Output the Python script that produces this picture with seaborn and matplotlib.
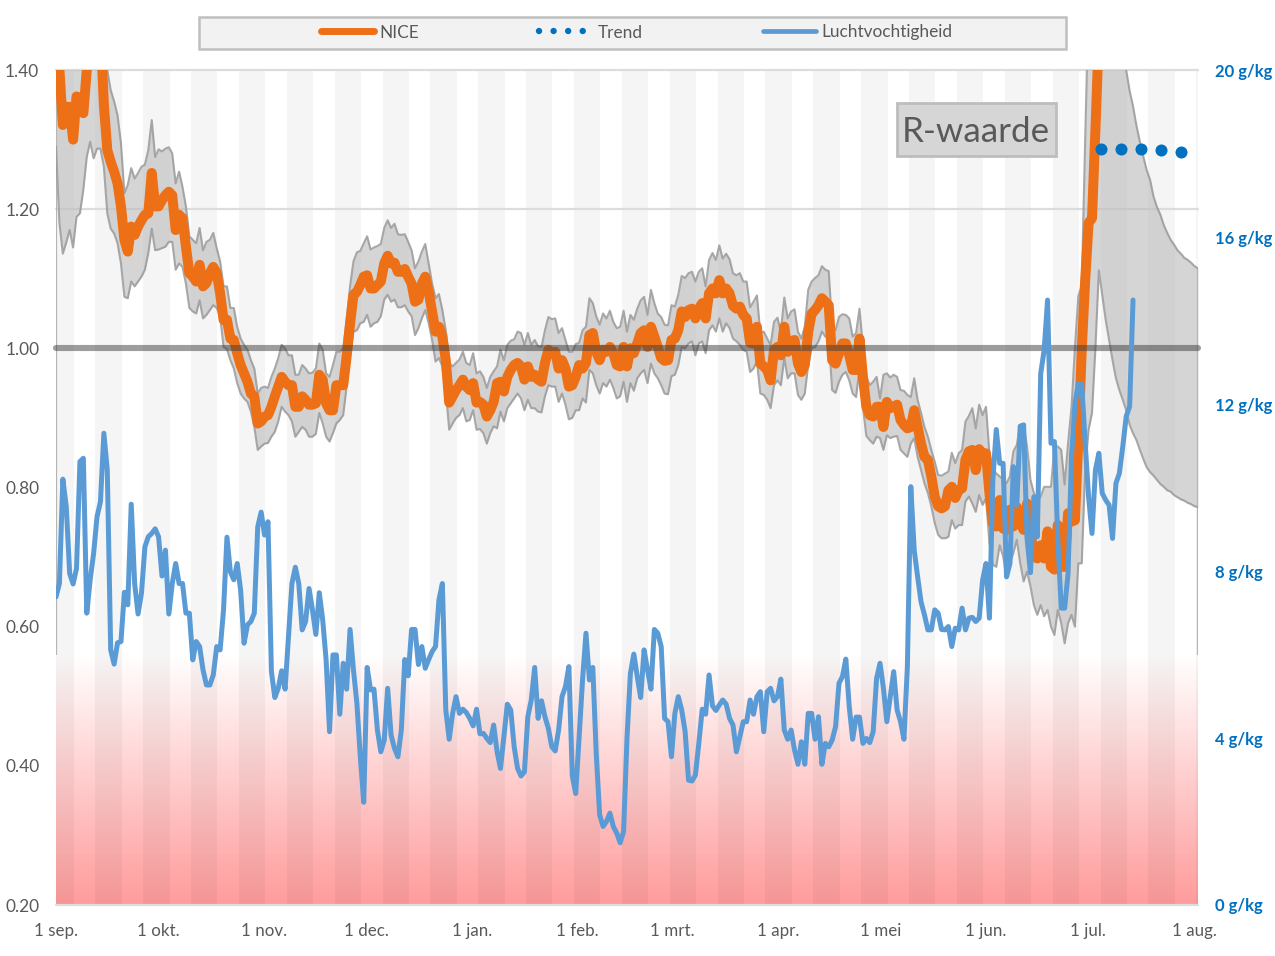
import numpy as np
import matplotlib
matplotlib.use("Agg")
import matplotlib.pyplot as plt
from matplotlib.lines import Line2D
from matplotlib.patches import Rectangle
from matplotlib.colors import LinearSegmentedColormap
import seaborn as sns

month_labels = ["1 sep.", "1 okt.", "1 nov.", "1 dec.", "1 jan.", "1 feb.", "1 mrt.",
                "1 apr.", "1 mei", "1 jun.", "1 jul.", "1 aug."]
month_days = [0, 30, 61, 91, 122, 153, 181, 212, 242, 273, 303, 334]
r_ticks = [0.2, 0.4, 0.6, 0.8, 1.0, 1.2, 1.4]
hum_ticks = [0, 4, 8, 12, 16, 20]

nice = [1.48,1.40,1.321,1.347,1.347,1.30,1.362,1.36,1.338,1.40,1.50,1.60,1.55,1.46,1.35,1.285,
1.268,1.254,1.237,1.204,1.156,1.139,1.175,1.163,1.175,1.184,1.192,1.194,1.252,1.204,1.204,
1.213,1.220,1.225,1.220,1.170,1.192,1.187,1.146,1.108,1.103,1.096,1.120,1.089,1.094,1.108,
1.117,1.108,1.079,1.041,1.041,1.014,1.012,0.993,0.976,0.964,0.952,0.935,0.931,0.892,0.895,
0.902,0.904,0.916,0.931,0.945,0.959,0.952,0.947,0.947,0.916,0.916,0.931,0.926,0.919,0.919,
0.921,0.962,0.955,0.921,0.911,0.911,0.947,0.947,0.947,0.988,1.035,1.077,1.081,1.091,1.103,
1.105,1.086,1.086,1.091,1.096,1.122,1.133,1.122,1.123,1.110,1.110,1.114,1.103,1.093,1.067,
1.070,1.093,1.103,1.081,1.053,1.024,1.031,1.017,0.983,0.922,0.931,0.940,0.947,0.955,0.945,
0.940,0.950,0.922,0.923,0.919,0.902,0.911,0.923,0.950,0.952,0.938,0.959,0.969,0.976,0.979,
0.974,0.955,0.974,0.959,0.962,0.955,0.952,0.979,0.998,0.993,0.995,0.971,0.983,0.971,0.945,
0.947,0.959,0.976,0.971,0.979,1.019,1.022,0.995,0.983,0.998,0.995,1.002,0.993,0.976,0.974,
1.002,0.974,1.000,0.993,1.007,1.022,1.026,1.002,1.031,1.017,1.002,0.986,0.982,0.983,1.012,
1.014,1.026,1.053,1.045,1.055,1.057,1.043,1.057,1.065,1.043,1.079,1.086,1.079,1.098,1.079,
1.086,1.079,1.061,1.057,1.060,1.048,1.043,1.008,1.007,1.031,0.978,0.974,0.969,0.954,0.998,
1.002,0.990,1.031,0.995,1.010,1.012,0.978,0.966,0.976,1.024,1.050,1.055,1.062,1.072,1.067,
1.062,0.983,0.978,0.993,1.007,1.007,0.990,0.969,0.969,1.014,0.959,0.916,0.904,0.902,0.916,
0.916,0.887,0.923,0.914,0.916,0.919,0.897,0.890,0.885,0.887,0.911,0.887,0.863,0.844,0.840,
0.816,0.787,0.773,0.770,0.773,0.796,0.801,0.785,0.796,0.799,0.840,0.852,0.854,0.825,0.855,
0.849,0.849,0.792,0.749,0.744,0.782,0.741,0.739,0.768,0.744,0.772,0.749,0.739,0.777,0.739,
0.701,0.698,0.717,0.698,0.737,0.686,0.682,0.746,0.686,0.686,0.763,0.751,0.753,0.868,0.998,
1.098,1.180,1.187,1.314,1.45,1.55,1.62]

upper = [1.70,1.62,1.52,1.50,1.53,1.52,1.49,1.55,1.52,1.60,1.70,1.75,1.72,1.62,1.46,1.400,
1.371,1.355,1.335,1.295,1.223,1.235,1.259,1.244,1.252,1.261,1.264,1.285,1.328,1.275,1.286,
1.283,1.287,1.289,1.280,1.237,1.254,1.232,1.204,1.161,1.156,1.151,1.173,1.141,1.153,1.156,
1.166,1.144,1.125,1.089,1.089,1.058,1.058,1.031,1.014,1.005,0.998,0.983,0.971,0.935,0.943,
0.945,0.943,0.959,0.971,0.986,1.005,1.000,0.990,0.990,0.962,0.962,0.976,0.971,0.964,0.965,
0.971,1.007,0.998,0.964,0.959,0.976,0.995,0.995,1.000,1.041,1.089,1.125,1.138,1.140,1.151,
1.161,1.142,1.145,1.147,1.150,1.173,1.184,1.173,1.179,1.164,1.163,1.164,1.153,1.141,1.115,
1.125,1.139,1.150,1.122,1.093,1.072,1.078,1.055,1.026,0.979,0.974,0.979,0.984,0.995,0.979,
0.976,0.993,0.964,0.967,0.959,0.943,0.959,0.967,0.974,0.998,0.983,1.005,1.011,1.013,1.024,
1.022,1.005,1.022,1.005,1.012,1.003,1.002,1.026,1.045,1.042,1.043,1.022,1.029,1.012,0.995,
0.995,1.006,1.008,1.026,1.031,1.072,1.065,1.046,1.034,1.050,1.043,1.054,1.038,1.029,1.031,
1.054,1.024,1.048,1.041,1.057,1.069,1.074,1.048,1.084,1.065,1.050,1.045,1.034,1.033,1.062,
1.060,1.077,1.104,1.101,1.108,1.110,1.096,1.110,1.115,1.089,1.127,1.137,1.127,1.148,1.129,
1.136,1.128,1.108,1.105,1.108,1.096,1.096,1.059,1.067,1.076,1.022,1.024,1.014,1.005,1.038,
1.044,1.024,1.073,1.043,1.053,1.056,1.024,1.014,1.031,1.084,1.096,1.101,1.105,1.118,1.113,
1.111,1.033,1.026,1.045,1.049,1.048,1.043,1.017,1.022,1.057,1.002,0.959,0.947,0.952,0.959,
0.928,0.962,0.964,0.958,0.962,0.959,0.940,0.939,0.933,0.930,0.957,0.926,0.907,0.887,0.873,
0.854,0.837,0.818,0.817,0.820,0.823,0.850,0.835,0.849,0.854,0.895,0.903,0.914,0.885,0.919,
0.904,0.916,0.849,0.828,0.820,0.816,0.811,0.806,0.816,0.852,0.861,0.890,0.890,0.859,0.811,
0.792,0.782,0.787,0.801,0.801,0.801,0.859,0.859,0.854,0.804,0.864,0.915,1.000,1.075,1.090,
1.300,1.500,1.700,1.800,1.900,1.900,1.850,1.800,1.720,1.620,1.520,1.450,1.400,1.370,1.348,
1.320,1.297,1.276,1.256,1.242,1.218,1.203,1.192,1.177,1.166,1.156,1.149,1.141,1.136,1.130,
1.127,1.123,1.118,1.115]

lower = [1.29,1.18,1.136,1.152,1.170,1.145,1.189,1.194,1.228,1.275,1.297,1.273,1.287,1.287,1.261,1.194,
1.172,1.165,1.151,1.122,1.074,1.072,1.096,1.089,1.096,1.103,1.113,1.137,1.172,1.141,1.142,
1.144,1.146,1.153,1.153,1.113,1.122,1.117,1.093,1.058,1.053,1.050,1.069,1.043,1.048,1.055,
1.062,1.058,1.046,1.002,0.999,0.983,0.971,0.950,0.935,0.928,0.923,0.909,0.887,0.854,0.859,
0.863,0.864,0.873,0.880,0.895,0.916,0.909,0.904,0.895,0.873,0.880,0.887,0.883,0.873,0.873,
0.877,0.907,0.892,0.873,0.866,0.878,0.892,0.897,0.904,0.945,0.991,1.024,1.026,1.036,1.038,
1.048,1.031,1.036,1.038,1.046,1.070,1.077,1.067,1.070,1.059,1.059,1.062,1.053,1.046,1.019,
1.029,1.043,1.055,1.036,1.012,0.981,0.986,0.974,0.940,0.883,0.892,0.900,0.904,0.914,0.895,
0.897,0.911,0.883,0.884,0.878,0.863,0.878,0.888,0.885,0.909,0.895,0.914,0.921,0.928,0.935,
0.928,0.911,0.926,0.914,0.914,0.909,0.908,0.931,0.947,0.945,0.945,0.923,0.935,0.919,0.898,
0.900,0.911,0.911,0.928,0.922,0.969,0.964,0.947,0.935,0.950,0.945,0.955,0.943,0.928,0.931,
0.952,0.923,0.950,0.939,0.957,0.964,0.969,0.950,0.978,0.964,0.957,0.947,0.935,0.934,0.960,
0.962,0.976,1.002,1.000,1.007,1.010,0.990,1.007,1.010,0.993,1.026,1.033,1.024,1.043,1.024,
1.036,1.029,1.014,1.010,1.005,0.998,0.995,0.966,0.971,0.981,0.935,0.933,0.926,0.914,0.947,
0.954,0.947,0.986,0.957,0.964,0.964,0.933,0.926,0.935,0.976,1.000,1.002,1.010,1.024,1.017,
1.014,0.940,0.936,0.952,0.962,0.966,0.954,0.935,0.930,0.971,0.916,0.874,0.868,0.863,0.873,
0.871,0.854,0.875,0.871,0.873,0.874,0.854,0.849,0.844,0.863,0.871,0.844,0.825,0.806,0.792,
0.773,0.749,0.732,0.727,0.727,0.729,0.753,0.741,0.746,0.746,0.780,0.787,0.777,0.765,0.789,
0.775,0.785,0.720,0.689,0.686,0.717,0.701,0.672,0.691,0.706,0.725,0.691,0.665,0.679,0.658,
0.631,0.617,0.631,0.615,0.624,0.600,0.588,0.624,0.605,0.576,0.605,0.617,0.600,0.691,0.691,
0.825,0.883,0.907,1.000,1.112,1.077,1.041,1.012,0.983,0.957,0.940,0.926,0.911,0.890,0.878,
0.868,0.854,0.841,0.829,0.822,0.817,0.811,0.805,0.801,0.796,0.794,0.789,0.786,0.783,0.781,
0.778,0.776,0.773,0.772]

humidity = [7.38,7.70,10.20,9.54,7.94,7.69,8.06,10.62,10.70,6.99,7.79,8.42,9.30,9.66,11.30,10.42,
6.11,5.77,6.28,6.31,7.49,7.19,9.60,7.70,6.97,7.47,8.58,8.82,8.90,9.01,8.82,7.88,8.50,6.97,
7.70,8.18,7.70,7.70,6.99,6.99,5.87,6.31,6.19,5.63,5.27,5.27,5.51,6.19,6.11,7.07,8.81,7.98,
7.79,8.18,7.54,6.27,6.71,6.79,6.99,9.06,9.41,8.86,9.18,5.59,4.97,5.19,5.61,5.17,6.43,7.70,
8.09,7.70,6.59,6.79,7.58,7.07,6.48,7.48,6.83,5.87,4.15,5.99,5.99,4.57,5.79,5.17,6.60,5.63,
4.83,3.55,2.46,5.69,5.15,5.17,4.19,3.67,3.95,5.19,4.07,3.75,3.55,4.19,5.88,5.49,6.60,6.60,
5.76,6.19,5.67,5.88,6.07,6.19,7.31,7.70,4.67,3.97,4.59,4.99,4.59,4.69,4.61,4.47,4.29,4.69,
4.10,4.11,3.99,3.89,4.31,3.67,3.27,4.03,4.81,4.67,3.79,3.27,3.09,3.19,4.51,4.91,5.69,4.47,
4.89,4.51,4.23,3.79,3.69,4.19,4.99,5.23,5.71,3.09,2.67,4.03,5.39,6.51,5.39,5.69,3.63,2.16,
1.88,2.00,2.20,1.88,1.72,1.49,1.76,4.00,5.55,6.01,5.47,4.97,6.11,5.63,5.17,6.60,6.51,6.19,
4.47,4.39,3.55,4.59,4.99,4.67,4.15,2.99,2.97,3.11,3.87,4.69,4.57,5.51,4.77,4.66,4.79,4.91,
4.81,4.47,4.31,3.67,4.03,4.39,4.39,4.91,4.57,4.99,5.11,4.15,5.11,5.19,4.89,4.99,5.41,4.19,
3.97,4.19,3.71,3.37,3.91,3.37,4.59,4.59,3.97,4.51,3.37,3.87,3.79,3.95,4.27,5.31,5.47,5.89,
4.75,3.97,4.50,4.50,3.87,3.99,3.89,4.15,5.43,5.79,5.19,4.39,4.99,5.59,4.67,4.39,3.97,5.71,
10.02,8.50,7.86,7.26,6.95,6.59,6.59,7.07,6.99,6.60,6.59,6.67,6.19,6.63,6.59,7.11,6.59,6.87,
6.89,6.79,6.87,7.78,8.18,6.87,10.18,11.39,10.58,10.58,7.86,8.18,10.50,9.58,11.47,11.50,8.78,
7.96,9.78,8.82,12.73,13.29,14.49,11.06,11.10,8.74,7.11,7.11,7.94,10.74,12.00,12.49,12.49,
11.06,9.78,8.90,10.42,10.82,9.86,9.70,9.58,8.78,10.10,10.34,10.98,11.70,11.94,14.49]

trend_days = [305.6, 311.6, 317.4, 323.2, 329.0]
trend_vals = [1.2865, 1.2865, 1.2865, 1.2845, 1.282]

ORANGE = "#ee7016"
BLUE = "#5b9bd5"
TEXT = "#595959"
TICKBLUE = "#0070c0"

sns.set_theme(style="white")
plt.rcParams["font.family"] = ["Lato", "DejaVu Sans"]

W, H = 1275, 956
fig = plt.figure(figsize=(W / 100, H / 100), dpi=100, facecolor="white")
ax = fig.add_axes([56 / W, 1 - 905 / H, 1142 / W, 835 / H])
ax.set_xlim(0, 334)
ax.set_ylim(0.2, 1.4)

# red gradient at the bottom
cmap = LinearSegmentedColormap.from_list("fade", [(1, 0.61, 0.61, 1), (1, 0.61, 0.61, 0)])
ax.imshow(np.linspace(0, 1, 256).reshape(-1, 1), extent=(0, 334, 0.2, 0.56), origin="lower",
          cmap=cmap, aspect="auto", zorder=0.5, interpolation="bilinear")
ax.set_xlim(0, 334)
ax.set_ylim(0.2, 1.4)

# weekly stripes
for start in range(-3, 334, 14):
    ax.axvspan(start + 0.5, start + 8.2, color="black", alpha=0.04, lw=0, zorder=1)

for level in (1.4, 1.2, 0.2):
    ax.axhline(level, color="#dcdcdc", lw=1.6, zorder=1.5, clip_on=False)
ax.vlines([0], 0.56, 1.40, color="#b5b5b5", lw=1.6, zorder=2)
ax.vlines([334], 0.56, upper[-1], color="#b5b5b5", lw=1.6, zorder=2)

band_x = np.arange(len(upper))
ax.fill_between(band_x, lower, upper, color="#bcbcbc", alpha=0.62, lw=0, zorder=2)
sns.lineplot(x=band_x, y=upper, ax=ax, color="#9a9a9a", lw=1.5, alpha=0.85, zorder=2.5, legend=False, estimator=None)
sns.lineplot(x=band_x, y=lower, ax=ax, color="#9a9a9a", lw=1.5, alpha=0.85, zorder=2.5, legend=False, estimator=None)

sns.lineplot(x=np.arange(len(nice)), y=nice, ax=ax, color=ORANGE, lw=7.2, zorder=3, legend=False,
             estimator=None, solid_capstyle="round", solid_joinstyle="round")
ax.plot([0, 334], [1.0, 1.0], color="#3c3c3c", alpha=0.5, lw=4.4, zorder=4,
        solid_capstyle="round", clip_on=False)

ax.set_xticks(np.array(month_days) * 0.9965)
ax.set_xticklabels(month_labels, fontsize=12.2, color=TEXT)
ax.set_yticks(r_ticks)
ax.set_yticklabels([f"{v:.2f}" for v in r_ticks], fontsize=12.4, color=TEXT)
ax.tick_params(axis="x", length=0, pad=13)
ax.tick_params(axis="y", length=0, pad=12)
ax.set_xlabel("")
ax.set_ylabel("")
for s in ax.spines.values():
    s.set_visible(False)

ax2 = ax.twinx()
ax2.set_ylim(0, 20)
sns.lineplot(x=np.arange(len(humidity)), y=humidity, ax=ax2, color=BLUE, lw=3.6, legend=False,
             estimator=None, solid_capstyle="round", solid_joinstyle="round", zorder=3)
ax2.set_ylim(0, 20)
ax2.set_yticks(hum_ticks)
ax2.set_yticklabels([f"{v} g/kg" for v in hum_ticks], fontsize=12, color=TICKBLUE, fontweight="bold")
ax2.tick_params(axis="y", length=0, pad=12)
ax2.set_ylabel("")
for s in ax2.spines.values():
    s.set_visible(False)

# trend dots drawn on the R axis but above the humidity axes
ax3 = ax.twinx()
ax3.set_ylim(0.2, 1.4)
ax3.set_yticks([])
ax3.set_ylabel("")
for s in ax3.spines.values():
    s.set_visible(False)
sns.scatterplot(x=trend_days, y=trend_vals, ax=ax3, color=TICKBLUE, s=75, linewidth=0, legend=False, zorder=5, clip_on=False)
ax3.set_ylabel("")

ax3.add_patch(Rectangle((245.9, 1.2764), 46.5, 0.0762, fc="#d6d6d6", ec="#bdbdbd", lw=2, zorder=5.5))
ax3.text(269, 1.3115, "R-waarde", fontsize=25.2, color=TEXT, ha="center", va="center", zorder=6)

# legend
fig.add_artist(Rectangle((199 / W, 1 - 49 / H), 867 / W, 32 / H, transform=fig.transFigure,
                         fc="#f2f2f2", ec="#bfbfbf", lw=1.8, zorder=1))
handles = [
    Line2D([], [], color=ORANGE, lw=5, solid_capstyle="round"),
    Line2D([], [], color=TICKBLUE, lw=4.6, linestyle=(0, (0.01, 2.27)), dash_capstyle="round"),
    Line2D([], [], color=BLUE, lw=3.4, solid_capstyle="round"),
]
leg = fig.legend(handles, ["NICE", "Trend", "Luchtvochtigheid"], ncol=3, frameon=False,
                 loc="center", bbox_to_anchor=(636.5 / W, 1 - 32.5 / H), fontsize=12.4,
                 handlelength=3.1, handletextpad=0.3, columnspacing=6.96, labelcolor=TEXT)
leg.set_zorder(3)

fig.savefig("out.png", dpi=100)
